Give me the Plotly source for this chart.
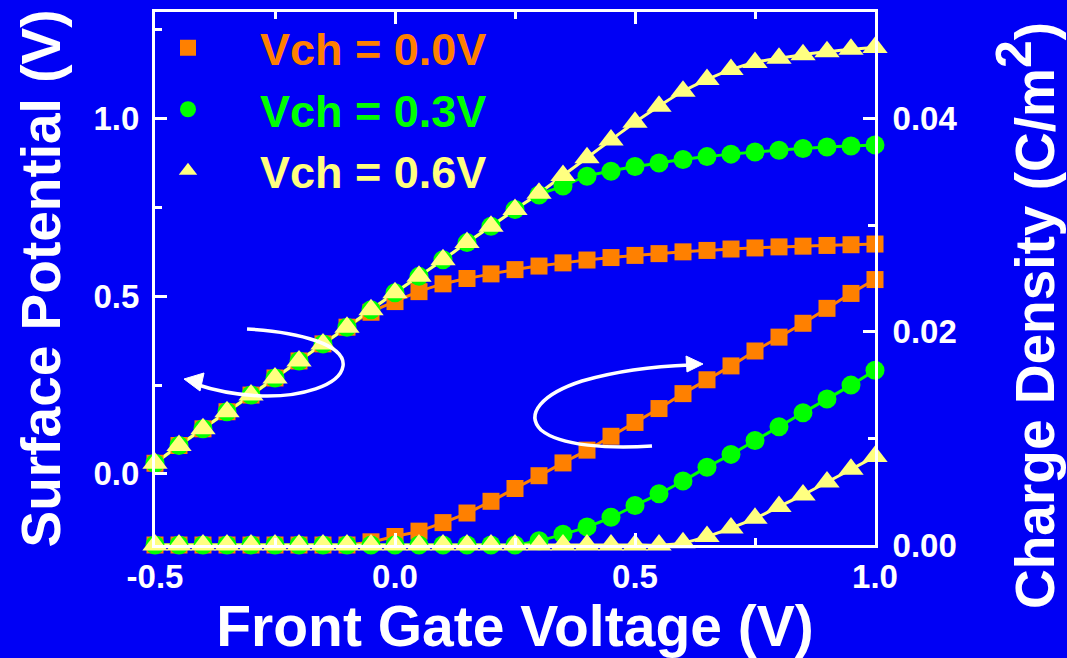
import plotly.graph_objects as go

# ---------------- data ----------------
vg = [-0.5, -0.45, -0.4, -0.35, -0.3, -0.25, -0.2, -0.15, -0.1, -0.05,
      0.0, 0.05, 0.1, 0.15, 0.2, 0.25, 0.3, 0.35, 0.4, 0.45,
      0.5, 0.55, 0.6, 0.65, 0.7, 0.75, 0.8, 0.85, 0.9, 0.95, 1.0]

# surface potential (V)
sp_00 = [0.03, 0.08, 0.127, 0.175, 0.222, 0.27, 0.318, 0.366, 0.413, 0.455,
         0.485, 0.513, 0.535, 0.55, 0.563, 0.575, 0.585, 0.594, 0.602, 0.609,
         0.615, 0.62, 0.625, 0.629, 0.633, 0.636, 0.639, 0.641, 0.643, 0.645, 0.647]
sp_03 = [0.03, 0.08, 0.127, 0.175, 0.222, 0.27, 0.318, 0.366, 0.413, 0.462,
         0.51, 0.556, 0.603, 0.651, 0.697, 0.744, 0.785, 0.81, 0.838, 0.852,
         0.865, 0.875, 0.885, 0.893, 0.9, 0.906, 0.911, 0.916, 0.92, 0.923, 0.926]
sp_06 = [0.03, 0.08, 0.127, 0.175, 0.222, 0.27, 0.318, 0.366, 0.413, 0.462,
         0.51, 0.556, 0.603, 0.651, 0.697, 0.744, 0.79, 0.84, 0.89, 0.94,
         0.99, 1.035, 1.077, 1.11, 1.138, 1.158, 1.17, 1.18, 1.188, 1.195, 1.2]

# charge density (C/m^2)
qd_00 = [0, 0, 0, 0, 0, 0, 0, 0, 0, 0.0003,
         0.0008, 0.0013, 0.0021, 0.003, 0.0041, 0.0053, 0.0065, 0.0077, 0.0089, 0.0102,
         0.0115, 0.0128, 0.0142, 0.0155, 0.0168, 0.0182, 0.0195, 0.0208, 0.0222, 0.0236, 0.0249]
qd_03 = [0, 0, 0, 0, 0, 0, 0, 0, 0, 0,
         0, 0, 0, 0, 0, 0, 0.0004, 0.001, 0.0017, 0.0026,
         0.0037, 0.0048, 0.006, 0.0073, 0.0085, 0.0098, 0.0111, 0.0124, 0.0137, 0.015, 0.0164]
qd_06 = [0, 0, 0, 0, 0, 0, 0, 0, 0, 0,
         0, 0, 0, 0, 0, 0, 0, 0, 0, 0,
         0, 0, 0.0002, 0.0008, 0.0016, 0.0025, 0.0036, 0.0047, 0.0059, 0.0071, 0.0083]

series_names = ["Vch = 0.0V", "Vch = 0.3V", "Vch = 0.6V"]
x_ticks = [-0.5, 0.0, 0.5, 1.0]
x_ticklabels = ["-0.5", "0.0", "0.5", "1.0"]
y_ticks = [0.0, 0.5, 1.0]
y_ticklabels = ["0.0", "0.5", "1.0"]
y2_ticks = [0.0, 0.02, 0.04]
y2_ticklabels = ["0.00", "0.02", "0.04"]

# ---------------- style ----------------
BG = "#0000F5"
WHITE = "#FFFFFF"
colors = ["#FF8000", "#00FF00", "#FFFF80"]
symbols = ["square", "circle", "triangle-up"]
msizes = [17, 19, 22]
FONT = "Liberation Sans, Arial, sans-serif"

fig = go.Figure()

sp_all = [sp_00, sp_03, sp_06]
qd_all = [qd_00, qd_03, qd_06]

# connecting lines (no legend), then markers
for ax, data in (("y", sp_all), ("y2", qd_all)):
    for i in range(3):
        fig.add_trace(go.Scatter(
            x=vg, y=data[i], yaxis=ax, mode="lines",
            line=dict(color=colors[i], width=3, shape="spline"),
            cliponaxis=False, showlegend=False, hoverinfo="skip"))
    for i in range(3):
        fig.add_trace(go.Scatter(
            x=vg, y=data[i], yaxis=ax, mode="markers",
            name=f"<span style='color:{colors[i]}'>{series_names[i]}</span>",
            marker=dict(symbol=symbols[i], size=msizes[i], color=colors[i]),
            cliponaxis=False, showlegend=(ax == "y")))

# pixel -> data helpers for the decorative loop arrows
PL, PR, PT, PB = 155, 875, 12, 545
XR = (-0.5, 1.0)
YR = (-0.2, 1.3)


def px2x(px):
    return XR[0] + (px - PL) / (PR - PL) * (XR[1] - XR[0])


def py2y(py):
    return YR[1] - (py - PT) / (PB - PT) * (YR[1] - YR[0])


def path(cmds):
    out = []
    for c in cmds:
        if isinstance(c, str):
            out.append(c)
        else:
            out.append(f"{px2x(c[0]):.4f},{py2y(c[1]):.4f}")
    return " ".join(out)


left_loop = path(["M", (247, 329), "C", (300, 332), (346, 345), (343, 366),
                  "C", (340, 386), (300, 397), (262, 396),
                  "C", (232, 395), (210, 389), (195, 384)])
left_head = path(["M", (184, 379), "L", (204, 373), "L", (200, 391), "Z"])
right_loop = path(["M", (652, 446), "C", (610, 449), (560, 446), (541, 430),
                   "C", (525, 414), (542, 394), (582, 381),
                   "C", (620, 370), (660, 366), (690, 365)])
right_head = path(["M", (703, 364), "L", (686, 356), "L", (687, 372), "Z"])

shapes = [
    dict(type="path", path=left_loop, xref="x", yref="y", line=dict(color=WHITE, width=3.5)),
    dict(type="path", path=left_head, xref="x", yref="y", line=dict(color=WHITE, width=1),
         fillcolor=WHITE),
    dict(type="path", path=right_loop, xref="x", yref="y", line=dict(color=WHITE, width=3.5)),
    dict(type="path", path=right_head, xref="x", yref="y", line=dict(color=WHITE, width=1),
         fillcolor=WHITE),
]

axis_common = dict(
    showline=True, linecolor=WHITE, linewidth=3,
    ticks="inside", ticklen=12, tickwidth=3, tickcolor=WHITE,
    showgrid=False, zeroline=False,
    tickfont=dict(family=FONT, size=33, color=WHITE, weight="bold"),
    automargin=False,
)

fig.update_layout(
    width=1067, height=658,
    margin=dict(l=PL, r=1067 - PR, t=PT, b=658 - PB),
    paper_bgcolor=BG, plot_bgcolor=BG,
    template="none",
    font=dict(family=FONT, color=WHITE),
    xaxis=dict(
        range=list(XR), tickvals=x_ticks, ticktext=x_ticklabels,
        mirror="ticks",
        minor=dict(ticks="inside", ticklen=7, tickwidth=3, tickcolor=WHITE, dtick=0.25,
                   tick0=0, showgrid=False),
        ticklabelstandoff=0,
        title=dict(text="Front Gate Voltage (V)", standoff=4,
                   font=dict(family=FONT, size=57, color=WHITE, weight="bold")),
        **axis_common),
    yaxis=dict(
        range=list(YR), tickvals=y_ticks, ticktext=y_ticklabels,
        minor=dict(ticks="inside", ticklen=7, tickwidth=3, tickcolor=WHITE, dtick=0.25,
                   tick0=0, showgrid=False),
        ticklabelstandoff=6,
        title=dict(text="Surface Potential (V)", standoff=16,
                   font=dict(family=FONT, size=55, color=WHITE, weight="bold")),
        **axis_common),
    yaxis2=dict(
        range=[0, 0.05], tickvals=y2_ticks, ticktext=y2_ticklabels,
        overlaying="y", side="right", anchor="x",
        minor=dict(ticks="inside", ticklen=7, tickwidth=3, tickcolor=WHITE, dtick=0.01,
                   tick0=0, showgrid=False),
        ticklabelstandoff=8,
        **axis_common),
    legend=dict(
        x=(116 - PL) / (PR - PL), y=1.0, xanchor="left", yanchor="top",
        bgcolor="rgba(0,0,0,0)", borderwidth=0,
        font=dict(family=FONT, size=45, weight="bold"),
        itemwidth=134, tracegroupgap=0,
    ),
    shapes=shapes,
    annotations=[dict(
        text="Charge Density (C/m<sup><span style='font-size:50px'>2</span></sup>)",
        textangle=-90, xref="paper", yref="paper",
        x=(1026 - PL) / (PR - PL), y=(PB - 316) / (PB - PT),
        xanchor="center", yanchor="middle", showarrow=False,
        font=dict(family=FONT, size=55, color=WHITE, weight="bold"))],
)

fig.write_html("out.html")
